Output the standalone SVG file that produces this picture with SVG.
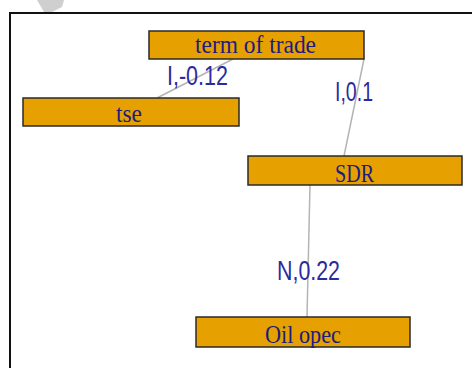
<svg xmlns="http://www.w3.org/2000/svg" width="472" height="368" viewBox="0 0 472 368">
<style>
.node rect{fill:#E6A000;stroke:#2a2a2a;stroke-width:1.5}
.node text{font-family:"Liberation Serif",serif;font-size:26px;fill:#1c1c80;text-anchor:start}
.edge{stroke:#b4b4b4;stroke-width:1.5;fill:none}
.lbl{font-family:"Liberation Sans",sans-serif;font-size:27px;fill:#2b2b9e}
</style>
<rect width="472" height="368" fill="#ffffff"/>
<polygon points="37,0 64,0 62,7 50,13 44,12" fill="#cfcfcf"/>
<path d="M10,368 V13 H472" fill="none" stroke="#111" stroke-width="2"/>
<g id="connectors">
<line class="edge" x1="233" y1="59" x2="157" y2="98"/>
<line class="edge" x1="364" y1="59" x2="344" y2="156"/>
<line class="edge" x1="310" y1="185" x2="307" y2="317" stroke-width="2.2"/>
<text class="lbl" x="167" y="85" textLength="61" lengthAdjust="spacingAndGlyphs">I,-0.12</text>
<text class="lbl" x="335" y="101" textLength="38" lengthAdjust="spacingAndGlyphs">I,0.1</text>
<text class="lbl" x="277" y="280" textLength="63" lengthAdjust="spacingAndGlyphs">N,0.22</text>
</g>
<g id="term" class="node"><rect x="149" y="31" width="215" height="28"/><text x="195" y="53" textLength="121" lengthAdjust="spacingAndGlyphs">term of trade</text></g>
<g id="tse" class="node"><rect x="23" y="98" width="216" height="28"/><text x="116" y="122" textLength="26" lengthAdjust="spacingAndGlyphs">tse</text></g>
<g id="sdr" class="node"><rect x="248" y="156" width="214" height="29"/><text x="335" y="182" textLength="39" lengthAdjust="spacingAndGlyphs">SDR</text></g>
<g id="oil" class="node"><rect x="196" y="317" width="214" height="30"/><text x="265" y="343" textLength="76" lengthAdjust="spacingAndGlyphs">Oil opec</text></g>
</svg>
